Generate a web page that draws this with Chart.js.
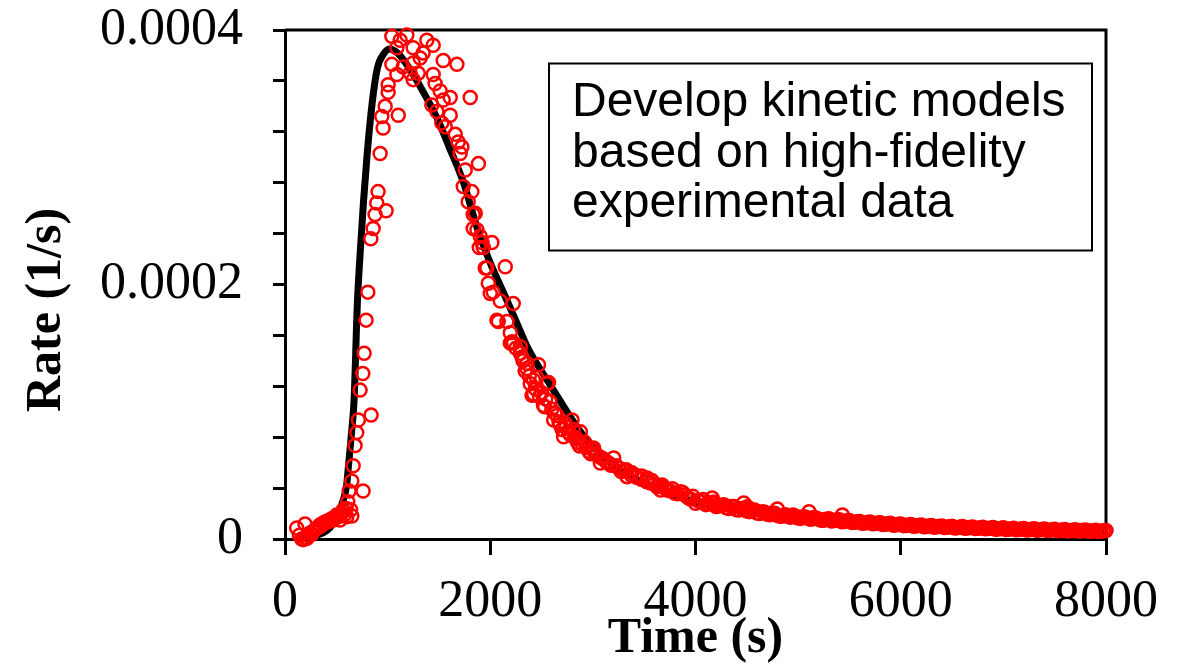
<!DOCTYPE html>
<html>
<head>
<meta charset="utf-8">
<title>Rate vs time</title>
<script src="https://cdn.jsdelivr.net/npm/chart.js@4/dist/chart.umd.min.js"></script>
<style>
    html, body { margin: 0; padding: 0; background: #fff; }
    #wrap { width: 1181px; height: 664px; }
</style>
</head>
<body>
<div id="wrap"><canvas id="rateChart" width="1181" height="664"></canvas></div>
<script>
// Model curve (s, 1/s)
const modelTime = [150, 250, 371, 440, 488, 530, 569, 600, 618, 650, 673, 705, 735, 765, 800, 850, 900, 960,
    1020, 1080, 1140, 1250, 1370, 1480, 1600, 1740, 1870, 2000, 2160, 2300, 2360, 2585, 2910, 3250, 3500,
    4000, 4500, 5000, 5500, 6000, 6500, 7000, 7500, 8000];
const modelRate = [0, 2e-6, 4.7e-6, 9e-6, 15e-6, 22e-6, 31e-6, 42e-6, 57e-6, 85e-6, 109e-6, 185e-6, 228e-6, 265e-6, 302e-6, 343e-6, 370e-6, 381e-6,
    385e-6, 383e-6, 378e-6, 365e-6, 348e-6, 331e-6, 308e-6, 280e-6, 245e-6, 217e-6, 188e-6, 162e-6, 151e-6, 121e-6, 81e-6, 55e-6, 44e-6,
    29e-6, 22e-6, 16.5e-6, 13.5e-6, 11.2e-6, 9.7e-6, 8.6e-6, 7.5e-6, 6.7e-6];

// Experimental points (s, 1/s)
const expTime = [
    114, 140, 163, 180, 195, 200, 215, 230, 244, 260, 275, 290, 309, 325, 340, 355, 371, 390, 405, 420,
    439, 455, 470, 488, 504, 520, 537, 552, 566, 580, 595, 602, 612, 625, 640, 651, 651, 664, 683, 699,
    715, 732, 758, 761, 771, 790, 807, 836, 839, 859, 878, 894, 907, 927, 943, 956, 976, 985, 1005, 1005,
    1041, 1041, 1090, 1090, 1104, 1122, 1151, 1187, 1220, 1249, 1249, 1249, 1298, 1317, 1346, 1382, 1431, 1444, 1444, 1463,
    1480, 1512, 1528, 1542, 1542, 1561, 1610, 1610, 1659, 1675, 1688, 1707, 1724, 1737, 1756, 1785, 1805, 1821, 1834, 1834,
    1854, 1870, 1885, 1893, 1902, 1919, 1932, 1951, 1967, 1981, 2000, 2016, 2029, 2065, 2078, 2098, 2146, 2163, 2195, 2195,
    2212, 2224, 2227, 2250, 2293, 2293, 2320, 2358, 2358, 2380, 2407, 2421, 2423, 2440, 2470, 2480, 2519, 2540, 2553, 2568,
    2600, 2618, 2650, 2680, 2715, 2740, 2760, 2797, 2820, 2850, 2878, 2900, 2940, 2960, 3000, 3007, 3040, 3073, 3100, 3150,
    3203, 3250, 3300, 3333, 3380, 3420, 3470, 3528, 3560, 3600, 3650, 3659, 3700, 3750, 3800, 3854, 3900, 3950, 4000, 4050,
    4100, 4150, 4163, 4200, 4250, 4300, 4350, 4400, 4450, 4470, 4500, 4504, 4550, 4600, 4650, 4700, 4750, 4797, 4800, 4850,
    4900, 4950, 5000, 5050, 5100, 5106, 5150, 5200, 5250, 5300, 5350, 5400, 5431, 5450, 5500, 5550, 5600, 5650, 5700, 5750,
    5800, 5850, 5900, 5950, 6000, 6050, 6100, 6150, 6200, 6250, 6300, 6350, 6400, 6450, 6500, 6550, 6600, 6650, 6700, 6750,
    6800, 6850, 6900, 6950, 7000, 7050, 7100, 7150, 7200, 7250, 7300, 7350, 7400, 7450, 7500, 7550, 7600, 7650, 7700, 7750,
    7800, 7850, 7900, 7950, 8000];
const expRate = [
    8.6e-6, 3e-6, 0, -0.5e-6, 11.8e-6, 1e-6, 0.5e-6, 2.5e-6, 4.7e-6, 3.5e-6, 6e-6, 7e-6, 8.6e-6, 9e-6, 11e-6, 10.5e-6, 12.6e-6, 13e-6, 14e-6, 13.5e-6,
    14.9e-6, 16e-6, 15e-6, 17e-6, 18.9e-6, 17.5e-6, 14.9e-6, 20e-6, 22.8e-6, 19e-6, 24e-6, 17.5e-6, 29.3e-6, 37.7e-6, 23e-6, 45.6e-6, 18.1e-6, 57.6e-6, 73.4e-6, 83.6e-6,
    93.5e-6, 117e-6, 130e-6, 37.7e-6, 146e-6, 172e-6, 194e-6, 236e-6, 97.5e-6, 244e-6, 255e-6, 264e-6, 273e-6, 303e-6, 332e-6, 323e-6, 340e-6, 258e-6, 351e-6, 357e-6,
    373e-6, 395e-6, 365e-6, 386e-6, 333e-6, 392e-6, 371e-6, 396e-6, 366e-6, 386e-6, 374e-6, 361e-6, 366e-6, 378e-6, 382e-6, 392e-6, 341e-6, 388e-6, 365e-6, 358e-6,
    336e-6, 352e-6, 327e-6, 376e-6, 345e-6, 324e-6, 347e-6, 333e-6, 318e-6, 373e-6, 312e-6, 303e-6, 308e-6, 277e-6, 290e-6, 265e-6, 347e-6, 273e-6, 255e-6, 244e-6,
    256e-6, 243e-6, 295e-6, 229e-6, 238e-6, 233e-6, 229e-6, 213e-6, 213e-6, 201e-6, 193e-6, 233e-6, 194e-6, 172e-6, 171e-6, 187e-6, 214e-6, 171e-6, 162e-6, 154e-6,
    155e-6, 185e-6, 154e-6, 150e-6, 151e-6, 146e-6, 140e-6, 138e-6, 134e-6, 128e-6, 113e-6, 125e-6, 114e-6, 118e-6, 137e-6, 112e-6, 105e-6, 110e-6, 122e-6, 123e-6,
    102e-6, 93.5e-6, 97e-6, 90e-6, 80.4e-6, 88e-6, 84e-6, 93.5e-6, 80e-6, 76e-6, 84.3e-6, 74e-6, 72e-6, 69e-6, 70e-6, 71.5e-6, 66e-6, 59.7e-6, 63e-6, 60e-6,
    63.7e-6, 56e-6, 54e-6, 49e-6, 52e-6, 50e-6, 47e-6, 48e-6, 44e-6, 43e-6, 41.5e-6, 38.5e-6, 40e-6, 38e-6, 36e-6, 37.2e-6, 34.5e-6, 31.5e-6, 28e-6, 29.5e-6,
    27e-6, 28.5e-6, 32.2e-6, 25.5e-6, 26.5e-6, 24.5e-6, 25.5e-6, 23e-6, 24e-6, 28.3e-6, 22e-6, 25.4e-6, 22.5e-6, 20.5e-6, 21.5e-6, 19.5e-6, 20.5e-6, 23.6e-6, 18.5e-6, 18e-6,
    17.8e-6, 18.8e-6, 16.5e-6, 17.5e-6, 16e-6, 21.5e-6, 16.8e-6, 15.5e-6, 14.8e-6, 16e-6, 14.5e-6, 15.2e-6, 18.9e-6, 13.8e-6, 14.5e-6, 13.2e-6, 13.8e-6, 12.6e-6, 13.3e-6, 12.2e-6,
    12.8e-6, 11.6e-6, 12.3e-6, 11e-6, 11.8e-6, 10.6e-6, 11.4e-6, 10.3e-6, 11e-6, 9.9e-6, 10.6e-6, 9.6e-6, 10.3e-6, 9.2e-6, 10e-6, 8.9e-6, 9.8e-6, 8.7e-6, 9.5e-6, 8.5e-6,
    9.3e-6, 8.2e-6, 9e-6, 7.9e-6, 8.8e-6, 7.7e-6, 8.5e-6, 7.5e-6, 8.3e-6, 7.2e-6, 8e-6, 7e-6, 7.8e-6, 6.8e-6, 7.6e-6, 6.6e-6, 7.5e-6, 6.4e-6, 7.3e-6, 6.3e-6,
    7.1e-6, 6.1e-6, 6.9e-6, 6e-6, 6.6e-6];

// Second pass of readings along the dense decay band
const bandTime = [
    2310, 2340, 2390, 2450, 2500, 2530, 2580, 2630, 2670, 2700, 2730, 2780, 2810, 2840, 2870, 2920, 2980,
    3025, 3075, 3125, 3175, 3225, 3275, 3325, 3375, 3425, 3475, 3525, 3575, 3625, 3675, 3725, 3775, 3825, 3875, 3925, 3975,
    4025, 4075, 4125, 4175, 4225, 4275, 4325, 4375, 4425, 4475, 4525, 4575, 4625, 4675, 4725, 4775, 4825, 4875, 4925, 4975,
    5025, 5075, 5125, 5175, 5225, 5275, 5325, 5375, 5425, 5475, 5525, 5575, 5625, 5675, 5725, 5775, 5825, 5875, 5925, 5975,
    6025, 6075, 6125, 6175, 6225, 6275, 6325, 6375, 6425, 6475, 6525, 6575, 6625, 6675, 6725, 6775, 6825, 6875, 6925, 6975,
    7025, 7075, 7125, 7175, 7225, 7275, 7325, 7375, 7425, 7475, 7525, 7575, 7625, 7675, 7725, 7775, 7825, 7875, 7925, 7975];
const bandRate = [
    143e-6, 132e-6, 122e-6, 127e-6, 115e-6, 104e-6, 108e-6, 99e-6, 92e-6, 86e-6, 91e-6, 82e-6, 86e-6, 79e-6, 73e-6, 76e-6, 67e-6,
    67e-6, 64e-6, 61e-6, 58e-6, 57.5e-6, 53e-6, 54.5e-6, 50e-6, 48.5e-6, 49.5e-6, 45e-6, 46e-6, 41e-6, 42.5e-6, 38.5e-6, 39.5e-6, 35.5e-6, 36.5e-6, 32.5e-6, 33.5e-6,
    30e-6, 31e-6, 27.5e-6, 29e-6, 26e-6, 27e-6, 24e-6, 25.5e-6, 22.8e-6, 24.2e-6, 21.5e-6, 22.8e-6, 20e-6, 21e-6, 19e-6, 20e-6, 17.8e-6, 19e-6, 17e-6, 17.8e-6,
    16.2e-6, 17e-6, 15.5e-6, 16.5e-6, 14.8e-6, 15.6e-6, 14.2e-6, 15e-6, 13.6e-6, 14.3e-6, 13e-6, 13.6e-6, 12.4e-6, 13e-6, 11.9e-6, 12.5e-6, 11.4e-6, 12e-6, 10.9e-6, 11.5e-6,
    10.5e-6, 11e-6, 10e-6, 10.6e-6, 9.7e-6, 10.2e-6, 9.3e-6, 9.9e-6, 9e-6, 9.6e-6, 8.7e-6, 9.3e-6, 8.5e-6, 9e-6, 8.2e-6, 8.7e-6, 8e-6, 8.5e-6, 7.7e-6, 8.3e-6,
    7.5e-6, 8e-6, 7.3e-6, 7.8e-6, 7.1e-6, 7.6e-6, 6.9e-6, 7.4e-6, 6.7e-6, 7.2e-6, 6.5e-6, 7e-6, 6.3e-6, 6.9e-6, 6.2e-6, 6.7e-6, 6e-6, 6.5e-6, 5.9e-6, 6.4e-6];

// Axis settings
const xMin = 0, xMax = 8000, xStep = 2000;
const yMin = 0, yMax = 0.0004, yMinorStep = 0.00004, yMajorEvery = 5;
const noteLines = ['Develop kinetic models', 'based on high-fidelity', 'experimental data'];

const serif = '"Liberation Serif", "Times New Roman", serif';
const sans = '"Liberation Sans", Arial, sans-serif';

// Closed frame around the plot area
const framePlugin = {
    id: 'frame',
    beforeDatasetsDraw(chart) {
        const { ctx, chartArea: a } = chart;
        ctx.save();
        ctx.strokeStyle = '#000';
        ctx.lineWidth = 3;
        ctx.beginPath();
        ctx.moveTo(a.left, a.top);
        ctx.lineTo(a.right, a.top);
        ctx.lineTo(a.right, a.bottom);
        ctx.stroke();
        ctx.restore();
    }
};

// Rotated y title and the text box
const labelsPlugin = {
    id: 'labels',
    afterDraw(chart) {
        const ctx = chart.ctx;
        ctx.save();
        ctx.translate(47, 310);
        ctx.rotate(-Math.PI / 2);
        ctx.font = 'bold 50px ' + serif;
        ctx.fillStyle = '#000';
        ctx.textAlign = 'center';
        ctx.textBaseline = 'middle';
        ctx.fillText('Rate (1/s)', 0, 0);
        ctx.restore();

        ctx.save();
        ctx.fillStyle = '#fff';
        ctx.fillRect(549, 63.5, 543, 187);
        ctx.strokeStyle = '#000';
        ctx.lineWidth = 2;
        ctx.strokeRect(549, 63.5, 543, 187);
        ctx.fillStyle = '#000';
        ctx.font = '48px ' + sans;
        ctx.textBaseline = 'alphabetic';
        noteLines.forEach((line, i) => {
            ctx.fillText(line, 572, 116 + i * 50.5);
        });
        ctx.restore();
    }
};

const expPoints = expTime.map((t, i) => ({ x: t, y: expRate[i] }))
    .concat(bandTime.map((t, i) => ({ x: t, y: bandRate[i] })));

const ctx = document.getElementById('rateChart').getContext('2d');
new Chart(ctx, {
    type: 'scatter',
    data: {
        datasets: [{
            label: 'Experiment',
            data: expPoints,
            showLine: false,
            pointStyle: 'circle',
            pointRadius: 6.5,
            borderWidth: 2.5,
            borderColor: '#ff0000',
            backgroundColor: 'rgba(0,0,0,0)',
            clip: false
        }, {
            label: 'Model',
            data: modelTime.map((t, i) => ({ x: t, y: modelRate[i] })),
            showLine: true,
            pointRadius: 0,
            borderColor: '#000',
            borderWidth: 7,
            cubicInterpolationMode: 'monotone',
            fill: false
        }]
    },
    options: {
        responsive: false,
        animation: false,
        devicePixelRatio: 1,
        layout: { padding: { top: 30, right: 75, bottom: 0, left: 0 } },
        plugins: {
            legend: { display: false },
            tooltip: { enabled: false }
        },
        scales: {
            x: {
                type: 'linear',
                min: xMin,
                max: xMax,
                afterFit: s => { s.height = 125; },
                ticks: {
                    stepSize: xStep,
                    color: '#000',
                    padding: 16,
                    maxRotation: 0,
                    font: { family: serif, size: 52 },
                    callback: v => String(v)
                },
                grid: { drawOnChartArea: false, tickLength: 16, lineWidth: 3, color: '#000' },
                border: { width: 3, color: '#000' },
                title: {
                    display: true,
                    text: 'Time (s)',
                    color: '#000',
                    padding: 0,
                    font: { family: serif, size: 50, weight: 'bold', lineHeight: 1 }
                }
            },
            y: {
                min: yMin,
                max: yMax,
                afterFit: s => {
                    // fixed axis width; label padding should not push the plot down
                    s.width = 285;
                    s.paddingTop = 0;
                    s.paddingBottom = 0;
                },
                ticks: {
                    stepSize: yMinorStep,
                    autoSkip: false,
                    color: '#000',
                    padding: 30,
                    font: { family: serif, size: 52 },
                    callback: v => {
                        const k = Math.round(v / yMinorStep);
                        if (k % yMajorEvery !== 0) return '';
                        return k === 0 ? '0' : (k * yMinorStep).toFixed(4);
                    }
                },
                grid: { drawOnChartArea: false, tickLength: 12, lineWidth: 3, color: '#000' },
                border: { width: 3, color: '#000' }
            }
        }
    },
    plugins: [framePlugin, labelsPlugin]
});
</script>
</body>
</html>
